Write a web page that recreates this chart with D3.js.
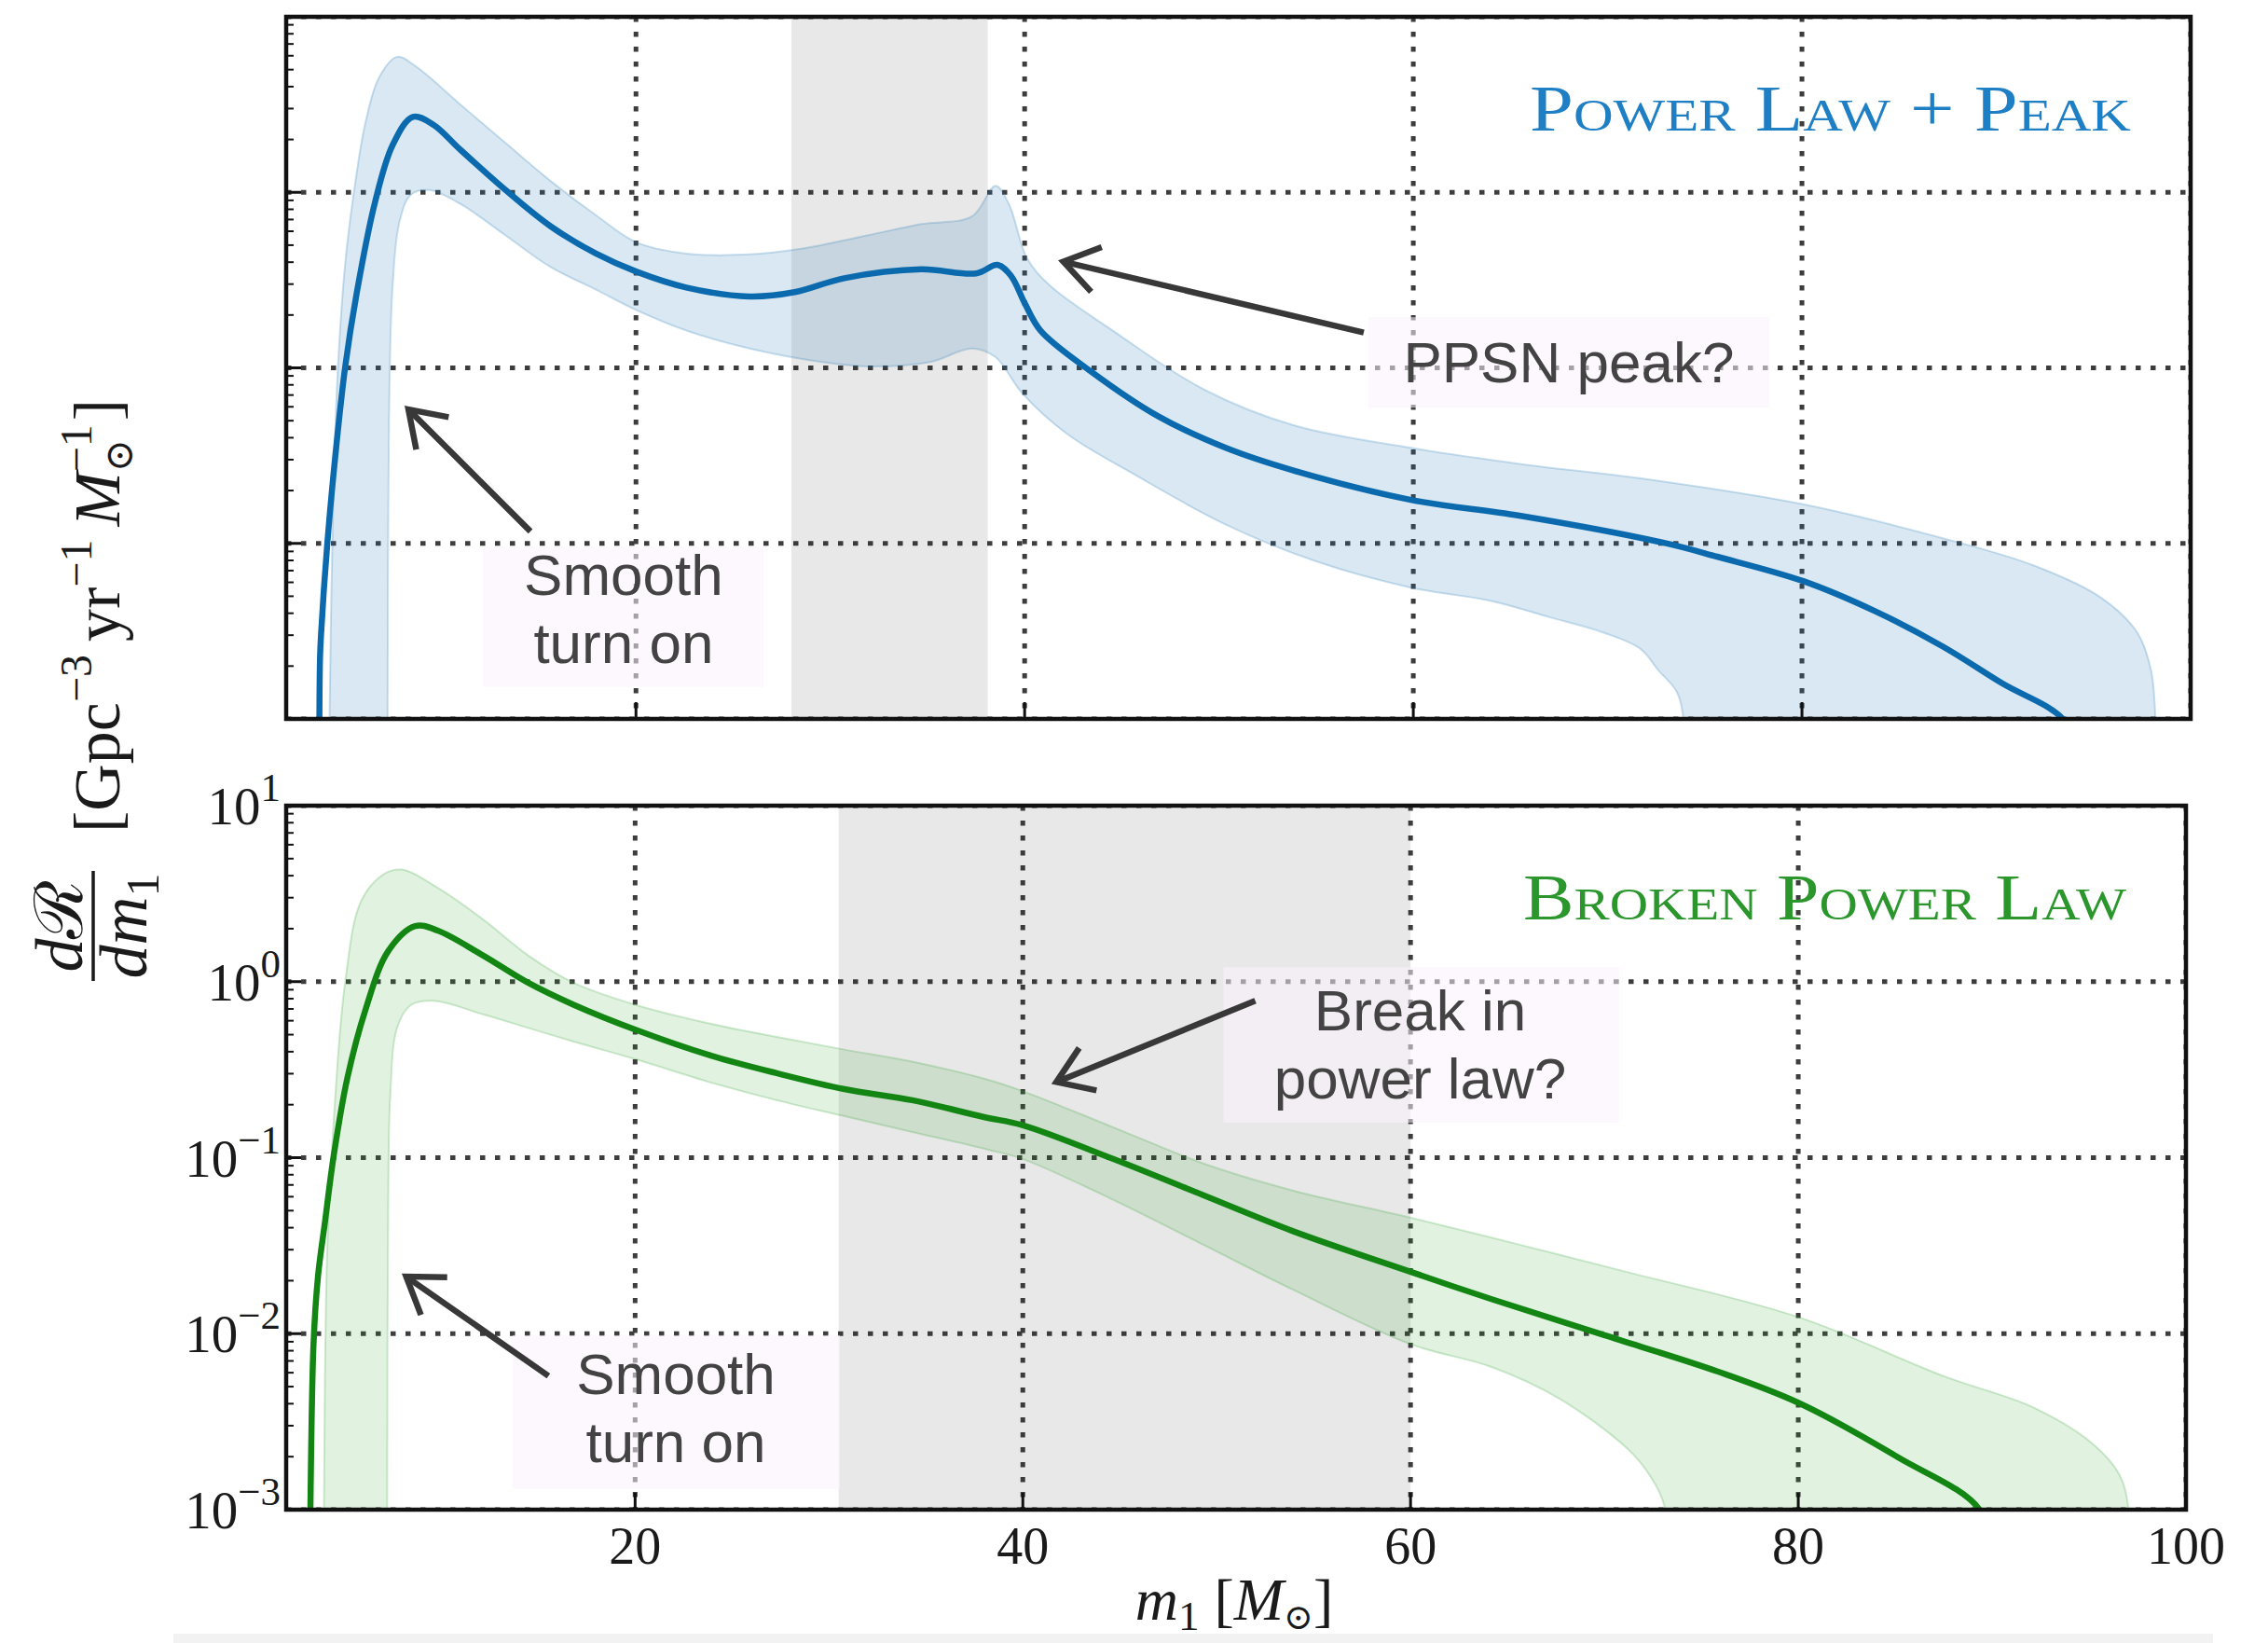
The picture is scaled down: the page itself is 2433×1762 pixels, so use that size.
<!DOCTYPE html>
<html>
<head>
<meta charset="utf-8">
<script src="https://cdn.jsdelivr.net/npm/d3@7"></script>
<style>
  html, body { margin: 0; padding: 0; background: #ffffff; }
  svg { display: block; }
</style>
</head>
<body>
<svg id="chart" width="2433" height="1762"></svg>
<script>
// ---------------------------------------------------------------------------
// Primary-mass distribution dR/dm1 for two population models.
// Each series is a list of [m1 (solar masses), dR/dm1] pairs; values below the
// axis floor are kept so the curves run off the bottom of each panel.
// ---------------------------------------------------------------------------
const massDomain = [2, 100];
const rateDomain = [1e-3, 10];
const massTicks = [20, 40, 60, 80, 100];
const rateExponents = [-3, -2, -1, 0, 1];

// Power Law + Peak: median and 90% band edges
const plpMedian = [
  [3.70, 0.0003], [3.74, 0.0022], [3.80, 0.0031], [4.11, 0.0098], [4.57, 0.035],
  [5.04, 0.102], [5.62, 0.263], [6.55, 0.859], [7.48, 1.86], [8.52, 2.69],
  [9.57, 2.43], [10.96, 1.75], [13.29, 1.03], [15.61, 0.64], [17.94, 0.448],
  [20.03, 0.353], [22.59, 0.287], [25.84, 0.255], [28.17, 0.270], [30.72, 0.324],
  [34.68, 0.364], [37.50, 0.345], [38.61, 0.386], [39.31, 0.333], [40.01, 0.233],
  [40.82, 0.163], [43.38, 0.096], [46.87, 0.053], [50.35, 0.035], [53.84, 0.026],
  [59.88, 0.0177], [65.46, 0.0144], [72.85, 0.0101], [75.64, 0.0084], [80.06, 0.0061],
  [83.78, 0.0041], [87.26, 0.00258], [90.28, 0.0016], [93.42, 0.001], [94.30, 0.0006]
];
const plpUpper = [
  [4.20, 0.0003], [4.23, 0.001], [4.41, 0.0153], [4.64, 0.090], [5.04, 0.398],
  [5.50, 1.03], [6.08, 2.50], [6.78, 4.52], [7.71, 5.92], [8.64, 5.25],
  [10.96, 3.17], [13.29, 1.91], [15.61, 1.16], [17.94, 0.741], [20.03, 0.519],
  [22.59, 0.448], [25.84, 0.443], [28.40, 0.475], [31.89, 0.568], [34.68, 0.659],
  [37.30, 0.73], [38.50, 1.09], [39.19, 0.859], [40.12, 0.422], [41.28, 0.296],
  [44.54, 0.163], [49.19, 0.0757], [53.84, 0.0471], [59.88, 0.035], [65.46, 0.0284],
  [72.15, 0.0231], [80.06, 0.0167], [87.26, 0.0107], [91.91, 0.0075], [95.40, 0.0049],
  [97.26, 0.0031], [97.96, 0.0019], [98.19, 0.001], [98.25, 0.0003]
];
const plpLower = [
  [7.20, 0.0003], [7.22, 0.001], [7.29, 0.0499], [7.48, 0.296], [7.83, 0.678],
  [8.41, 0.968], [9.34, 1.03], [10.96, 0.859], [13.29, 0.568], [15.61, 0.375],
  [17.94, 0.279], [20.03, 0.213], [22.59, 0.163], [25.84, 0.129], [29.56, 0.108],
  [31.89, 0.102], [35.14, 0.108], [37.30, 0.129], [38.50, 0.115], [39.89, 0.0713],
  [42.21, 0.0418], [45.70, 0.0245], [50.35, 0.0128], [55.00, 0.0079], [59.88, 0.0056],
  [64.00, 0.0047], [67.00, 0.0038], [69.80, 0.0031], [71.70, 0.0025], [72.60, 0.0019],
  [73.55, 0.00143], [73.90, 0.001], [74.00, 0.0003]
];

// Broken Power Law: median and 90% band edges
const bplMedian = [
  [3.22, 0.0003], [3.25, 0.001], [3.41, 0.00869], [3.64, 0.0211], [4.00, 0.043],
  [4.46, 0.104], [5.16, 0.285], [6.09, 0.692], [7.26, 1.49], [8.66, 2.07],
  [9.82, 1.95], [12.15, 1.41], [14.48, 0.986], [16.82, 0.74], [20.08, 0.530],
  [23.81, 0.383], [27.30, 0.302], [30.80, 0.245], [34.29, 0.212], [38.00, 0.170],
  [39.98, 0.153], [44.65, 0.0984], [49.31, 0.0612], [53.97, 0.0381], [60.03, 0.0224],
  [64.18, 0.0157], [70.00, 0.0098], [75.83, 0.0061], [80.02, 0.00404], [85.16, 0.00198],
  [89.35, 0.001], [90.00, 0.0005]
];
const bplUpper = [
  [3.93, 0.0003], [3.95, 0.001], [4.11, 0.0284], [4.46, 0.167], [5.04, 0.986],
  [5.86, 2.86], [7.02, 4.07], [7.96, 4.33], [9.82, 3.41], [12.15, 2.26],
  [14.48, 1.41], [16.82, 0.986], [20.08, 0.735], [23.81, 0.579], [27.30, 0.485],
  [30.80, 0.411], [34.29, 0.351], [38.21, 0.277], [39.98, 0.239], [44.65, 0.149],
  [49.31, 0.0927], [53.97, 0.0649], [60.03, 0.0455], [65.63, 0.032], [71.17, 0.0224],
  [80.02, 0.0124], [87.48, 0.00575], [92.15, 0.0038], [95.18, 0.00237], [96.58, 0.00157],
  [97.04, 0.001], [97.10, 0.0003]
];
const bplLower = [
  [7.20, 0.0003], [7.21, 0.001], [7.26, 0.0513], [7.37, 0.225], [7.72, 0.546],
  [8.42, 0.735], [9.59, 0.778], [12.15, 0.652], [14.48, 0.546], [16.82, 0.457],
  [20.08, 0.361], [23.81, 0.269], [27.30, 0.212], [30.80, 0.172], [34.29, 0.140],
  [38.21, 0.111], [39.98, 0.0984], [44.65, 0.0577], [49.31, 0.032], [53.97, 0.0177],
  [60.03, 0.0087], [64.18, 0.00647], [67.67, 0.00428], [71.17, 0.00223], [72.33, 0.00157],
  [73.15, 0.001], [73.20, 0.0003]
];

// Shaded mass ranges of interest
const plpHighlight = [28, 38.1];
const bplHighlight = [30.5, 60];

// ---------------------------------------------------------------------------
const svg = d3.select('#chart');
const SERIF = '"Liberation Serif", "Times New Roman", "DejaVu Serif", serif';
const SANS = '"Liberation Sans", Arial, Helvetica, sans-serif';

svg.append('rect').attr('width', 2433).attr('height', 1762).attr('fill', '#ffffff');
// faint strip along the lower edge
svg.append('rect').attr('x', 186).attr('y', 1752).attr('width', 2188).attr('height', 10).attr('fill', '#f2f2f2');

function measure(str, size, italic) {
  const t = svg.append('text')
    .attr('font-family', SERIF).attr('font-size', size)
    .attr('font-style', italic ? 'italic' : 'normal').text(str);
  const w = t.node().getComputedTextLength();
  t.remove();
  return w;
}

// Lays out a run of math-style pieces (base text, super/subscripts).
// A piece with `stack` shares the horizontal slot of the piece before it.
function mathLine(parent, x, y, pieces, anchor, color) {
  let cur = 0, prevX = 0, prevW = 0;
  const placed = [];
  pieces.forEach(p => {
    const w = measure(p.t, p.size, p.italic);
    if (p.stack) {
      placed.push(Object.assign({}, p, { x: prevX }));
      const adv = Math.max(prevW, w);
      cur = prevX + adv;
      prevW = adv;
    } else {
      cur += (p.gap || 0);
      placed.push(Object.assign({}, p, { x: cur }));
      prevX = cur; prevW = w; cur += w;
    }
  });
  const off = anchor === 'middle' ? -cur / 2 : anchor === 'end' ? -cur : 0;
  placed.forEach(p => {
    parent.append('text')
      .attr('x', x + off + p.x)
      .attr('y', y - (p.rise || 0))
      .attr('font-family', SERIF)
      .attr('font-size', p.size)
      .attr('font-style', p.italic ? 'italic' : 'normal')
      .attr('fill', color || '#1a1a1a')
      .text(p.t);
  });
}

function arrow(parent, tail, head) {
  const dx = tail[0] - head[0], dy = tail[1] - head[1];
  const ang = Math.atan2(dy, dx);
  const len = 44, spread = 34 * Math.PI / 180;
  const a1 = [head[0] + len * Math.cos(ang + spread), head[1] + len * Math.sin(ang + spread)];
  const a2 = [head[0] + len * Math.cos(ang - spread), head[1] + len * Math.sin(ang - spread)];
  const g = parent.append('g')
    .attr('stroke', '#383838').attr('stroke-width', 6.5).attr('fill', 'none')
    .attr('stroke-linejoin', 'miter').attr('stroke-linecap', 'butt');
  g.append('line').attr('x1', tail[0]).attr('y1', tail[1]).attr('x2', head[0]).attr('y2', head[1]);
  g.append('path').attr('d', `M${a1[0]},${a1[1]}L${head[0]},${head[1]}L${a2[0]},${a2[1]}`);
}

const panels = [
  {
    key: 'plp', left: 307, right: 2350, top: 18, bottom: 771,
    median: plpMedian, upper: plpUpper, lower: plpLower, highlight: plpHighlight,
    lineColor: '#0b6aae', fillColor: '#1f77b4', fillOpacity: 0.17,
    title: 'Power Law + Peak', titleColor: '#1f7fc4', titleWidth: 645,
    showRateLabels: false,
    notes: [
      { lines: ['Smooth', 'turn on'], box: [12.12, 26.56, 0.00948, 0.00152],
        cx: 19.36, baselines: [0.00509, 0.00209], tail: [14.57, 0.0117], head: [8.29, 0.058] },
      { lines: ['PPSN peak?'], box: [57.68, 78.32, 0.1945, 0.0594],
        cx: 68.0, baselines: [0.0828], tail: [57.45, 0.159], head: [41.99, 0.403] }
    ]
  },
  {
    key: 'bpl', left: 307, right: 2345, top: 864, bottom: 1619,
    median: bplMedian, upper: bplUpper, lower: bplLower, highlight: bplHighlight,
    lineColor: '#128512', fillColor: '#2ca02c', fillOpacity: 0.14,
    title: 'Broken Power Law', titleColor: '#2a962c', titleWidth: 647,
    showRateLabels: true,
    notes: [
      { lines: ['Smooth', 'turn on'], box: [13.67, 30.56, 0.0098, 0.00131],
        cx: 22.10, baselines: [0.00454, 0.00187], tail: [15.53, 0.00575], head: [8.19, 0.0211] },
      { lines: ['Break in', 'power law?'], box: [50.35, 70.75, 1.21, 0.158],
        cx: 60.50, baselines: [0.530, 0.218], tail: [51.99, 0.778], head: [41.73, 0.269] }
    ]
  }
];

function drawPanel(p) {
  const x = d3.scaleLinear().domain(massDomain).range([p.left, p.right]);
  const y = d3.scaleLog().domain(rateDomain).range([p.bottom, p.top]);
  const W = p.right - p.left, H = p.bottom - p.top;

  const clipId = 'clip-' + p.key;
  svg.append('clipPath').attr('id', clipId)
    .append('rect').attr('x', p.left).attr('y', p.top).attr('width', W).attr('height', H);

  const plot = svg.append('g').attr('clip-path', `url(#${clipId})`);

  // shaded mass range
  plot.append('rect')
    .attr('x', x(p.highlight[0])).attr('y', p.top)
    .attr('width', x(p.highlight[1]) - x(p.highlight[0])).attr('height', H)
    .attr('fill', '#e8e8e8');

  // dotted grid
  const grid = plot.append('g')
    .attr('stroke', '#1c1c1c').attr('stroke-width', 5)
    .attr('stroke-dasharray', '5.5 10.5').attr('opacity', 0.85);
  massTicks.forEach(m => grid.append('line')
    .attr('x1', x(m)).attr('x2', x(m)).attr('y1', p.top).attr('y2', p.bottom));
  rateExponents.forEach(e => grid.append('line')
    .attr('x1', p.left).attr('x2', p.right).attr('y1', y(Math.pow(10, e))).attr('y2', y(Math.pow(10, e))));

  const line = d3.line()
    .x(d => x(d[0])).y(d => y(d[1]))
    .curve(d3.curveCatmullRom.alpha(0.5));

  // credible band
  plot.append('path')
    .attr('d', line(p.upper.concat(p.lower.slice().reverse())) + 'Z')
    .attr('fill', p.fillColor).attr('fill-opacity', p.fillOpacity)
    .attr('stroke', p.fillColor).attr('stroke-opacity', 0.22).attr('stroke-width', 2);

  // median
  plot.append('path')
    .attr('d', line(p.median))
    .attr('fill', 'none').attr('stroke', p.lineColor)
    .attr('stroke-width', 6.5).attr('stroke-linejoin', 'round');

  // annotations
  const notes = svg.append('g');
  p.notes.forEach(n => {
    notes.append('rect')
      .attr('x', x(n.box[0])).attr('y', y(n.box[2]))
      .attr('width', x(n.box[1]) - x(n.box[0])).attr('height', y(n.box[3]) - y(n.box[2]))
      .attr('fill', '#fbf2fb').attr('fill-opacity', 0.55);
    n.lines.forEach((t, i) => {
      notes.append('text')
        .attr('x', x(n.cx)).attr('y', y(n.baselines[i]))
        .attr('text-anchor', 'middle')
        .attr('font-family', SANS).attr('font-size', 62)
        .attr('fill', '#434343')
        .text(t);
    });
    arrow(notes, [x(n.tail[0]), y(n.tail[1])], [x(n.head[0]), y(n.head[1])]);
  });

  // model name in small capitals
  svg.append('text')
    .attr('x', p.right - 64 - p.titleWidth).attr('y', p.top + 122)
    .attr('font-family', SERIF).attr('font-size', 70)
    .style('font-variant', 'small-caps')
    .attr('textLength', p.titleWidth).attr('lengthAdjust', 'spacingAndGlyphs')
    .attr('fill', p.titleColor)
    .text(p.title);

  // frame
  svg.append('rect')
    .attr('x', p.left).attr('y', p.top).attr('width', W).attr('height', H)
    .attr('fill', 'none').attr('stroke', '#111').attr('stroke-width', 4.5);

  // inward ticks
  const ticks = svg.append('g').attr('stroke', '#111');
  rateExponents.forEach(e => {
    const yy = y(Math.pow(10, e));
    ticks.append('line').attr('x1', p.left).attr('x2', p.left + 16)
      .attr('y1', yy).attr('y2', yy).attr('stroke-width', 3);
    if (e < 1) {
      for (let k = 2; k <= 9; k++) {
        const ym = y(k * Math.pow(10, e));
        ticks.append('line').attr('x1', p.left).attr('x2', p.left + 8)
          .attr('y1', ym).attr('y2', ym).attr('stroke-width', 2);
      }
    }
  });
  massTicks.filter(m => m < massDomain[1]).forEach(m => {
    ticks.append('line').attr('x1', x(m)).attr('x2', x(m))
      .attr('y1', p.bottom).attr('y2', p.bottom - 18).attr('stroke-width', 3);
  });

  if (p.showRateLabels) {
    rateExponents.forEach(e => {
      mathLine(svg, p.left - 6, y(Math.pow(10, e)) + 20, [
        { t: '10', size: 57 },
        { t: e < 0 ? '\u2212' + (-e) : String(e), size: 43, rise: 25 }
      ], 'end');
    });
    massTicks.forEach(m => {
      svg.append('text')
        .attr('x', x(m)).attr('y', p.bottom + 58)
        .attr('text-anchor', 'middle')
        .attr('font-family', SERIF).attr('font-size', 56)
        .attr('fill', '#1a1a1a')
        .text(m);
    });
  }
  return { x, y };
}

panels.forEach(drawPanel);

// x-axis title: m_1 [M_sun]
mathLine(svg, 1324, 1737, [
  { t: 'm', size: 64, italic: true },
  { t: '1', size: 45, rise: -11 },
  { t: '[', size: 64, gap: 16 },
  { t: 'M', size: 64, italic: true },
  { t: '\u2299', size: 38, rise: -10 },
  { t: ']', size: 64 }
], 'middle');

// y-axis title, rotated: dR/dm1 [Gpc^-3 yr^-1 M_sun^-1]
const ylab = svg.append('g').attr('transform', 'rotate(-90)');
mathLine(ylab, -993, 88, [
  { t: 'd', size: 72, italic: true },
  { t: '\u211B', size: 72 }
], 'middle');
ylab.append('line')
  .attr('x1', -1052).attr('x2', -934).attr('y1', 100).attr('y2', 100)
  .attr('stroke', '#1a1a1a').attr('stroke-width', 3.5);
mathLine(ylab, -993, 157, [
  { t: 'd', size: 72, italic: true },
  { t: 'm', size: 72, italic: true },
  { t: '1', size: 50, rise: -13 }
], 'middle');
mathLine(ylab, -893, 128, [
  { t: '[', size: 70 },
  { t: 'Gpc', size: 70 },
  { t: '\u22123', size: 48, rise: 30 },
  { t: 'yr', size: 70, gap: 14 },
  { t: '\u22121', size: 48, rise: 30 },
  { t: 'M', size: 70, italic: true, gap: 14 },
  { t: '\u22121', size: 48, rise: 30 },
  { t: '\u2299', size: 42, rise: -14, stack: true },
  { t: ']', size: 70, gap: 4 }
], 'start');
</script>
</body>
</html>
